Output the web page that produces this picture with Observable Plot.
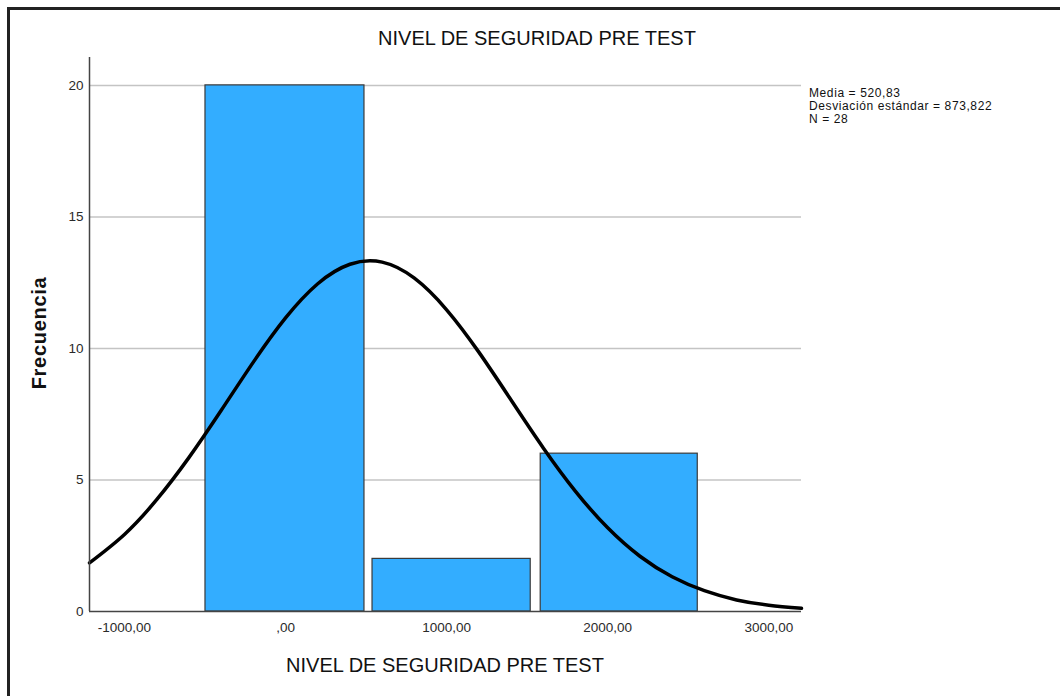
<!DOCTYPE html>
<html>
<head>
<meta charset="utf-8">
<script src="https://cdn.jsdelivr.net/npm/d3@7"></script>
<script src="https://cdn.jsdelivr.net/npm/@observablehq/plot@0.6"></script>
<style>
  html, body { margin: 0; padding: 0; background: #fff; }
  #wrap { position: relative; width: 1060px; height: 696px; overflow: hidden; font-family: "Liberation Sans", Arial, sans-serif; }
  #frame { position: absolute; left: 7px; top: 7px; width: 1100px; height: 800px; border-top: 3px solid #222; border-left: 3px solid #222; }
  #chart { position: absolute; left: 0; top: 0; }
  .title { position: absolute; text-align: center; font-size: 20px; color: #111; white-space: nowrap; }
  #ylabel { position: absolute; left: 39px; top: 333px; transform: translate(-50%, -50%) rotate(-90deg); font-size: 20px; font-weight: bold; letter-spacing: 0.7px; color: #111; white-space: nowrap; }
  #legend { position: absolute; left: 809px; top: 87px; font-size: 12px; letter-spacing: 0.6px; line-height: 13px; color: #111; }
</style>
</head>
<body>
<div id="wrap">
  <div id="frame"></div>
  <div id="chart"></div>
  <div class="title" id="title" style="top:27px; left:7px; width:1060px">NIVEL DE SEGURIDAD PRE TEST</div>
  <div class="title" id="xlabel" style="top:654px; left:89px; width:712px">NIVEL DE SEGURIDAD PRE TEST</div>
  <div id="ylabel">Frecuencia</div>
  <div id="legend"></div>
</div>
<script>
// Histogram bins (value range) and counts
const binStart = [-497, 540, 1584];
const binEnd = [490, 1522, 2559];
const counts = [20, 2, 6];

// Fitted normal curve points (Media = 520,83; DE = 873,822; N = 28)
const curveX = [-1217, -1000, -800, -600, -400, -200, 0, 200, 400, 600, 800, 1000, 1200, 1400, 1600, 1800, 2000, 2200, 2400, 2600, 2800, 3000, 3203];
const curveY = [1.85, 2.93, 4.25, 5.85, 7.64, 9.48, 11.16, 12.46, 13.20, 13.28, 12.67, 11.47, 9.86, 8.04, 6.22, 4.57, 3.18, 2.10, 1.32, 0.79, 0.44, 0.24, 0.12];

const xTicks = [-1000, 0, 1000, 2000, 3000];
const yTicks = [0, 5, 10, 15, 20];
const gridTicks = [5, 10, 15, 20];
const legendLines = ["Media = 520,83", "Desviación estándar = 873,822", "N = 28"];

const xDomain = [-1217, 3203];
const yDomain = [0, 21.06];

const bars = binStart.map((s, i) => ({x1: s, x2: binEnd[i], y: counts[i]}));
const curve = curveX.map((x, i) => ({x, y: curveY[i]}));

const fmtX = v => {
  const neg = v < 0;
  let s = Math.abs(v).toFixed(2).replace(".", ",");
  s = s.replace(/^0,/, ",");
  return (neg ? "-" : "") + s;
};

const chart = Plot.plot({
  width: 1060,
  height: 696,
  marginLeft: 89,
  marginRight: 259,
  marginTop: 57,
  marginBottom: 85,
  style: { fontFamily: "'Liberation Sans', Arial, sans-serif", fontSize: "13.5px", color: "#2a2a2a", background: "transparent" },
  x: { domain: xDomain, label: null },
  y: { domain: yDomain, label: null },
  marks: [
    Plot.ruleY(gridTicks, { stroke: "#c4c4c4", strokeWidth: 1.5 }),
    Plot.rect(bars, { x1: "x1", x2: "x2", y1: 0, y2: "y", fill: "#33adff", stroke: "#3a3a3a", strokeWidth: 1.2 }),
    Plot.line(curve, { x: "x", y: "y", curve: "natural", stroke: "#000", strokeWidth: 3.5 }),
    Plot.ruleX([xDomain[0]], { y1: 0, y2: yDomain[1], stroke: "#444", strokeWidth: 1.5 }),
    Plot.ruleY([0], { stroke: "#444", strokeWidth: 1.5 }),
    Plot.axisY({ ticks: yTicks, tickSize: 0, tickPadding: 6, tickFormat: d => String(d), label: null }),
    Plot.axisX({ ticks: xTicks, tickSize: 0, tickPadding: 11, tickFormat: fmtX, label: null })
  ]
});
document.getElementById("chart").appendChild(chart);
document.getElementById("legend").innerHTML = legendLines.map(s => `<div>${s}</div>`).join("");
</script>
</body>
</html>
